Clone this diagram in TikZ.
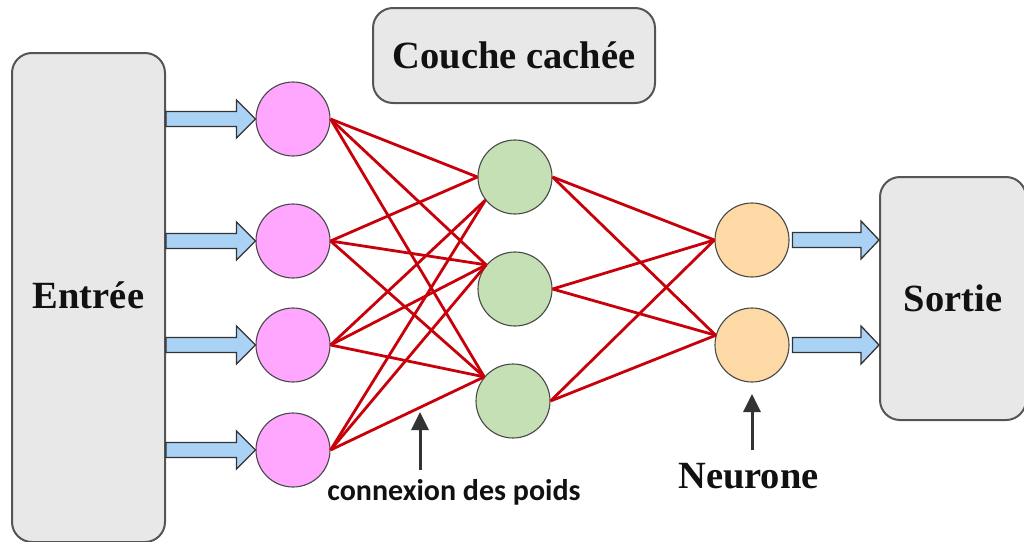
\documentclass[tikz,border=0pt]{standalone}
\usepackage{fontspec}
\setmainfont{Liberation Serif}
\newfontfamily\lblfont{Carlito}
\usetikzlibrary{arrows.meta,calc}
\definecolor{boxfill}{HTML}{E8E8E8}
\definecolor{boxdraw}{HTML}{555555}
\definecolor{pinkn}{HTML}{FFA6FF}
\definecolor{greenn}{HTML}{C5E0B4}
\definecolor{orangen}{HTML}{FDD9A6}
\definecolor{wred}{HTML}{C8000A}
\definecolor{bluearrow}{HTML}{A9D2F5}
\definecolor{darkarrow}{HTML}{333333}
\definecolor{txt}{HTML}{111111}
\tikzset{
  bigbox/.style={draw=boxdraw,line width=2pt,fill=boxfill,rounded corners=20pt,
    inner sep=0pt,text=txt,font=\fontsize{38.5}{42}\selectfont\bfseries},
  neuron/.style={circle,draw=boxdraw!85!black,line width=1.1pt,minimum size=74pt,inner sep=0pt},
  weight/.style={draw=wred,line width=2.8pt},
  barrow/.style={draw=darkarrow,line width=1.3pt,fill=bluearrow},
  ptr/.style={draw=darkarrow,line width=3pt,-{Triangle[width=17pt,length=18pt]}},
  lbl/.style={text=txt,inner sep=0pt}
}
\begin{document}
\begin{tikzpicture}[x=1pt,y=-1pt]
\useasboundingbox (0,0) rectangle (1024,541);
\clip (0,0) rectangle (1024,541);
% boxes
\node[bigbox,minimum width=153pt,minimum height=489pt] (ent) at (88.5,297.5) {\raisebox{4pt}{Entrée}};
\node[bigbox,minimum width=282pt,minimum height=95pt] (cc) at (514,55.5) {Couche cachée};
\node[bigbox,minimum width=146pt,minimum height=243pt] (sor) at (953,298.5) {Sortie};
% neurons
\node[neuron,fill=pinkn] (i1) at (293,119) {};
\node[neuron,fill=pinkn] (i2) at (293,241) {};
\node[neuron,fill=pinkn] (i3) at (293,345) {};
\node[neuron,fill=pinkn] (i4) at (293,450) {};
\node[neuron,fill=greenn] (h1) at (515,177) {};
\node[neuron,fill=greenn] (h2) at (515,289) {};
\node[neuron,fill=greenn] (h3) at (513,401) {};
\node[neuron,fill=orangen] (o1) at (752,240) {};
\node[neuron,fill=orangen] (o2) at (752,345) {};
% weights input -> hidden
\foreach \i in {i1,i2}{
  \draw[weight] (\i.east) -- (h1.west);
}
\foreach \i in {i3,i4}{
  \draw[weight] (\i.east) -- (h1.218);
}
\foreach \i in {i1,i2,i3,i4}{
  \draw[weight] (\i.east) -- (h2.140);
  \draw[weight] (\i.east) -- (h3.140);
}
% weights hidden -> output
\foreach \h in {h1,h2,h3}{
  \draw[weight] (\h.east) -- (o1.west);
  \draw[weight] (\h.east) -- (o2.165);
}
% block arrows input
\foreach \i in {i1,i2,i3,i4}{
  \path let \p1=(ent.east |- \i.west), \p2=(\i.west) in
    [barrow] (\x1,\y1+7.5) -- (\x2-19,\y1+7.5) -- (\x2-19,\y1+19) -- (\x2,\y1)
      -- (\x2-19,\y1-19) -- (\x2-19,\y1-7.5) -- (\x1,\y1-7.5) -- cycle;
}
% block arrows output
\foreach \o in {o1,o2}{
  \path let \p1=(\o.east), \p2=(sor.west |- \o.east) in
    [barrow] (\x1+3,\y1+7.5) -- (\x2-18,\y1+7.5) -- (\x2-18,\y1+19) -- (\x2,\y1)
      -- (\x2-18,\y1-19) -- (\x2-18,\y1-7.5) -- (\x1+3,\y1-7.5) -- cycle;
}
% labels
\node[lbl,font=\fontsize{38.5}{42}\selectfont\bfseries] (neur) at (748.5,476) {Neurone};
\coordinate (na) at (752,450);
\coordinate (nb) at (752,394);
\draw[ptr] (na) -- (nb);
\node[lbl,font=\lblfont\fontsize{30}{34}\selectfont\bfseries] (cdp) at (454,492) {connexion des poids};
\coordinate (ca) at (420,470);
\coordinate (cb) at (420,412);
\draw[ptr] (ca) -- (cb);
\end{tikzpicture}
\end{document}
